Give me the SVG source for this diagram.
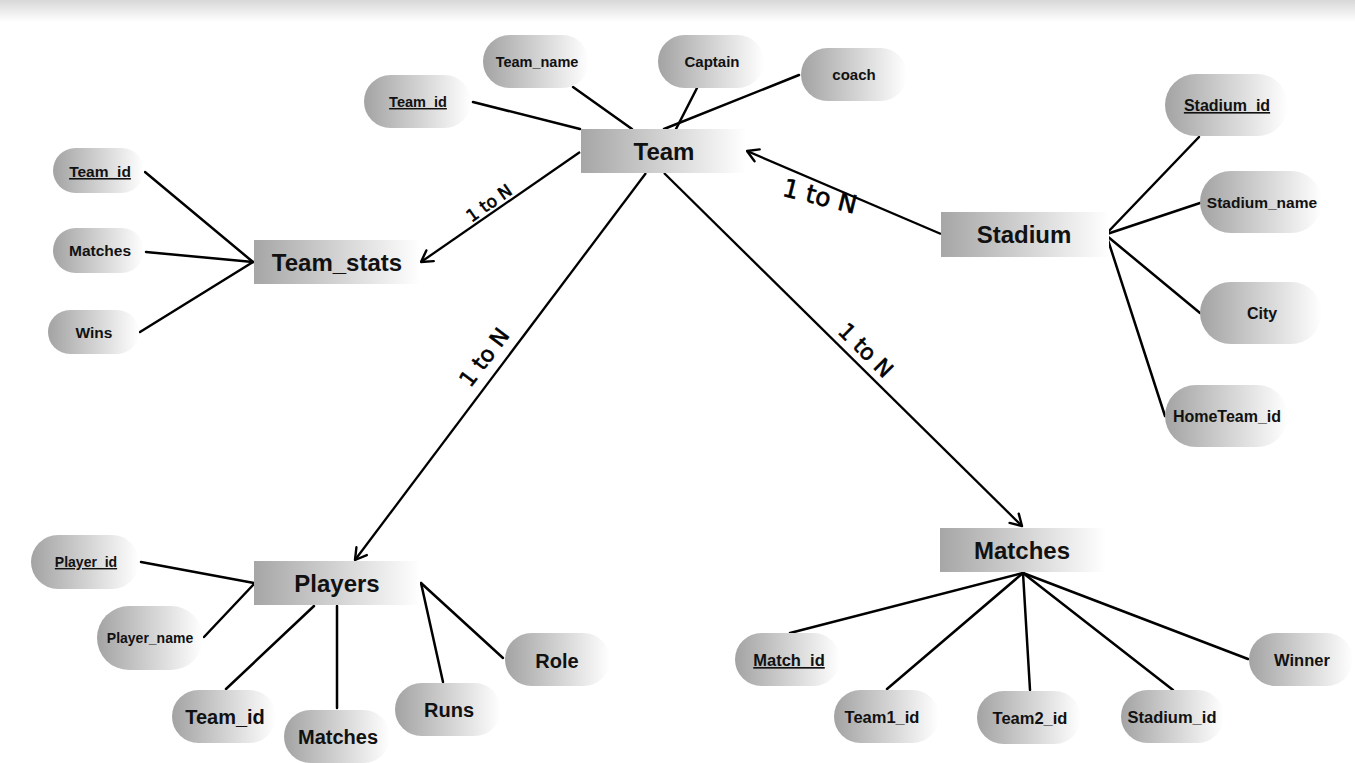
<svg xmlns="http://www.w3.org/2000/svg" width="1355" height="763" viewBox="0 0 1355 763">
<defs>
<linearGradient id="gEnt" x1="0" y1="0" x2="1" y2="0">
<stop offset="0" stop-color="#a6a6a6"/>
<stop offset="1" stop-color="#ffffff"/>
</linearGradient>
<linearGradient id="gPill" x1="0" y1="0" x2="1" y2="0">
<stop offset="0" stop-color="#a3a3a3"/>
<stop offset="1" stop-color="#ffffff"/>
</linearGradient>
<linearGradient id="gTop" x1="0" y1="0" x2="0" y2="1">
<stop offset="0" stop-color="#d8d8d8"/>
<stop offset="1" stop-color="#ffffff"/>
</linearGradient>
<marker id="arr" markerWidth="16" markerHeight="16" refX="13" refY="8" orient="auto" markerUnits="userSpaceOnUse">
<path d="M2,1.5 L13,8 L2,14.5" fill="none" stroke="#000" stroke-width="2.4" stroke-linecap="round" stroke-linejoin="round"/>
</marker>
</defs>
<style>
.ent{fill:url(#gEnt)}
.pill{fill:url(#gPill)}
.et{font-family:"Liberation Sans",Arial,sans-serif;font-weight:bold;font-size:24px;fill:#111;text-anchor:middle}
.at{font-family:"Liberation Sans",Arial,sans-serif;font-weight:bold;fill:#111;text-anchor:middle}
.ln{stroke:#000;stroke-width:2.5;fill:none;stroke-linecap:round}
.rl{stroke:#000;stroke-width:2.3;fill:none;marker-end:url(#arr)}
.lb{font-family:"DejaVu Sans",sans-serif;font-weight:normal;fill:#000;stroke:#000;stroke-width:0.6;text-anchor:middle}
</style>
<rect x="0" y="0" width="1355" height="763" fill="#ffffff"/>
<rect x="0" y="0" width="1355" height="22" fill="url(#gTop)"/>

<g id="connectors">
<line class="ln" x1="473" y1="102" x2="580" y2="129"/>
<line class="ln" x1="573" y1="87" x2="632" y2="129"/>
<line class="ln" x1="697" y1="88" x2="676" y2="129"/>
<line class="ln" x1="799" y1="75" x2="664" y2="129"/>
<line class="ln" x1="145" y1="172" x2="253" y2="262"/>
<line class="ln" x1="146" y1="252" x2="253" y2="262"/>
<line class="ln" x1="140" y1="332" x2="253" y2="262"/>
<line class="ln" x1="1107" y1="233" x2="1199" y2="137"/>
<line class="ln" x1="1107" y1="234" x2="1200" y2="203"/>
<line class="ln" x1="1107" y1="236" x2="1200" y2="313"/>
<line class="ln" x1="1107" y1="237" x2="1165" y2="416"/>
<line class="ln" x1="141" y1="562" x2="254" y2="583"/>
<line class="ln" x1="204" y1="637" x2="254" y2="584"/>
<line class="ln" x1="226" y1="689" x2="314" y2="606"/>
<line class="ln" x1="337" y1="606" x2="337" y2="708"/>
<line class="ln" x1="443" y1="682" x2="421" y2="583"/>
<line class="ln" x1="503" y1="658" x2="421" y2="583"/>
<line class="ln" x1="1023" y1="573" x2="790" y2="633"/>
<line class="ln" x1="1023" y1="573" x2="887" y2="689"/>
<line class="ln" x1="1023" y1="573" x2="1030" y2="690"/>
<line class="ln" x1="1023" y1="573" x2="1173" y2="690"/>
<line class="ln" x1="1023" y1="573" x2="1248" y2="659"/>
<line class="rl" x1="580" y1="152" x2="421" y2="262"/>
<line class="rl" x1="941" y1="234" x2="747" y2="151"/>
<line class="rl" x1="646" y1="173" x2="355" y2="560"/>
<line class="rl" x1="664" y1="173" x2="1022" y2="526"/>
<text class="lb" font-size="17" transform="translate(489,203) rotate(-35)" y="6">1 to N</text>
<text class="lb" font-size="25" transform="translate(820,196) rotate(14)" y="9">1 to N</text>
<text class="lb" font-size="22" transform="translate(484,357) rotate(-53)" y="8">1 to N</text>
<text class="lb" font-size="22" transform="translate(866,350) rotate(45)" y="8">1 to N</text>
</g>

<g id="team">
<rect class="ent" x="581" y="129" width="165" height="44"/>
<text class="et" x="664" y="160">Team</text>
</g>
<g id="team_id">
<rect class="pill" x="364" y="75" width="107" height="53" rx="26.5"/>
<text class="at" font-size="14.5" x="418" y="107" text-decoration="underline">Team_id</text>
</g>
<g id="team_name">
<rect class="pill" x="483" y="35" width="106" height="53" rx="26.5"/>
<text class="at" font-size="14.5" x="537" y="67">Team_name</text>
</g>
<g id="captain">
<rect class="pill" x="658" y="35" width="106" height="53" rx="26.5"/>
<text class="at" font-size="15" x="712" y="67">Captain</text>
</g>
<g id="coach">
<rect class="pill" x="801" y="48" width="106" height="53" rx="26.5"/>
<text class="at" font-size="15" x="854" y="80">coach</text>
</g>

<g id="team_stats">
<rect class="ent" x="254" y="240" width="166" height="44"/>
<text class="et" x="337" y="271">Team_stats</text>
</g>
<g id="ts_team_id">
<rect class="pill" x="53" y="148" width="91" height="45" rx="22.5"/>
<text class="at" font-size="15.5" x="100" y="177" text-decoration="underline">Team_id</text>
</g>
<g id="ts_matches">
<rect class="pill" x="53" y="228" width="91" height="45" rx="22.5"/>
<text class="at" font-size="15.5" x="100" y="256">Matches</text>
</g>
<g id="ts_wins">
<rect class="pill" x="48" y="310" width="91" height="44" rx="22"/>
<text class="at" font-size="15.5" x="94" y="338">Wins</text>
</g>

<g id="stadium">
<rect class="ent" x="941" y="212" width="168" height="45"/>
<text class="et" x="1024" y="243">Stadium</text>
</g>
<g id="stadium_id">
<rect class="pill" x="1165" y="74" width="123" height="62" rx="31"/>
<text class="at" font-size="16" x="1227" y="111" text-decoration="underline">Stadium_id</text>
</g>
<g id="stadium_name">
<rect class="pill" x="1200" y="171" width="122" height="62" rx="31"/>
<text class="at" font-size="15.5" x="1262" y="208">Stadium_name</text>
</g>
<g id="city">
<rect class="pill" x="1200" y="282" width="122" height="62" rx="31"/>
<text class="at" font-size="16" x="1262" y="319">City</text>
</g>
<g id="hometeam_id">
<rect class="pill" x="1165" y="385" width="123" height="62" rx="31"/>
<text class="at" font-size="16" x="1227" y="422">HomeTeam_id</text>
</g>

<g id="players">
<rect class="ent" x="254" y="561" width="166" height="44"/>
<text class="et" x="337" y="592">Players</text>
</g>
<g id="player_id">
<rect class="pill" x="31" y="535" width="108" height="54" rx="27"/>
<text class="at" font-size="14" x="86" y="567" text-decoration="underline">Player_id</text>
</g>
<g id="player_name">
<rect class="pill" x="97" y="606" width="106" height="64" rx="32"/>
<text class="at" font-size="14" x="150" y="643">Player_name</text>
</g>
<g id="p_team_id">
<rect class="pill" x="172" y="690" width="104" height="53" rx="26.5"/>
<text class="at" font-size="20" x="225" y="724">Team_id</text>
</g>
<g id="p_matches">
<rect class="pill" x="284" y="710" width="106" height="53" rx="26.5"/>
<text class="at" font-size="20" x="338" y="744">Matches</text>
</g>
<g id="p_runs">
<rect class="pill" x="395" y="683" width="106" height="53" rx="26.5"/>
<text class="at" font-size="20" x="449" y="717">Runs</text>
</g>
<g id="p_role">
<rect class="pill" x="505" y="633" width="105" height="53" rx="26.5"/>
<text class="at" font-size="20" x="557" y="668">Role</text>
</g>

<g id="matches">
<rect class="ent" x="940" y="528" width="166" height="44"/>
<text class="et" x="1022" y="559">Matches</text>
</g>
<g id="match_id">
<rect class="pill" x="735" y="633" width="105" height="53" rx="26.5"/>
<text class="at" font-size="16.5" x="789" y="666" text-decoration="underline">Match_id</text>
</g>
<g id="team1_id">
<rect class="pill" x="834" y="690" width="105" height="53" rx="26.5"/>
<text class="at" font-size="16.5" x="882" y="723">Team1_id</text>
</g>
<g id="team2_id">
<rect class="pill" x="977" y="691" width="104" height="53" rx="26.5"/>
<text class="at" font-size="16.5" x="1030" y="724">Team2_id</text>
</g>
<g id="m_stadium_id">
<rect class="pill" x="1121" y="690" width="103" height="53" rx="26.5"/>
<text class="at" font-size="16.5" x="1172" y="723">Stadium_id</text>
</g>
<g id="winner">
<rect class="pill" x="1249" y="633" width="104" height="53" rx="26.5"/>
<text class="at" font-size="16.5" x="1302" y="666">Winner</text>
</g>
</svg>
